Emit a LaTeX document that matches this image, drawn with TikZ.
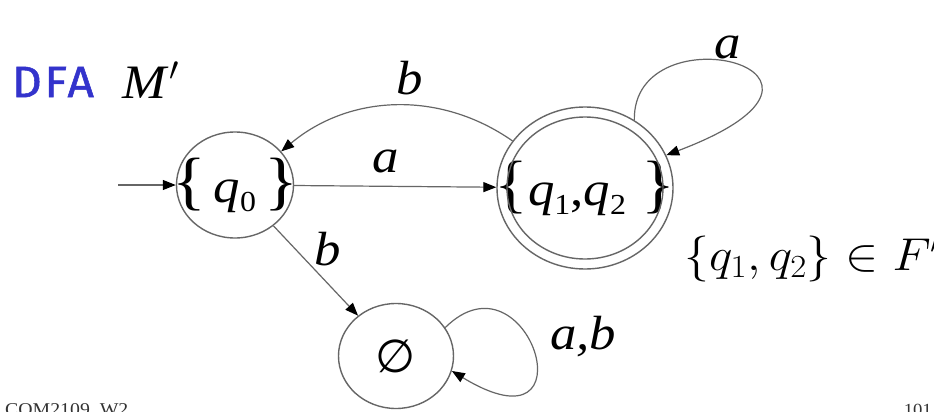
\RequirePackage{fix-cm}
\documentclass[tikz,border=0pt]{standalone}
\usepackage{fontspec}
\setmainfont[FakeStretch=1.1]{Liberation Serif}
\newfontfamily\dfafont[FakeStretch=1.05,FakeBold=1.2,LetterSpace=6]{Fira Sans}
\newfontfamily\symfont{DejaVu Sans}
\usetikzlibrary{arrows.meta,shapes.geometric}
\definecolor{linegray}{HTML}{666666}
\definecolor{dfablue}{HTML}{3333CC}
\newcommand\qsub[1]{\textit{q}\raisebox{-9pt}{\fontsize{29}{29}\selectfont #1}}
\newcommand\lbr{{\fontsize{64}{64}\selectfont\{}}
\newcommand\rbr{{\fontsize{64}{64}\selectfont\}}}
\begin{document}
\begin{tikzpicture}[x=1pt,y=-1pt,
  st/.style={ellipse,draw=linegray,line width=1.4pt,inner sep=0pt,font=\fontsize{48}{50}\selectfont},
  edge/.style={draw=linegray,line width=1.2pt,-{Triangle[length=13pt,width=10pt,color=black]}},
  lbl/.style={inner sep=0pt,font=\fontsize{48}{50}\selectfont\itshape}]
\useasboundingbox[fill=white] (0,0) rectangle (934,412);
% states
\node[st,minimum width=117pt,minimum height=106pt] (q0) at (235,185) {\makebox[0pt]{\lbr\,\qsub{0}\,\rbr}};
\node[st,minimum width=176pt,minimum height=162pt] (q12) at (585,188) {\makebox[0pt]{\lbr\qsub{1},\qsub{2}\,\,\rbr}};
\node[ellipse,draw=linegray,line width=1.4pt,minimum width=156pt,minimum height=142pt] (q12in) at (585,188) {};
\node[st,minimum width=115pt,minimum height=105pt] (e) at (396,356) {\makebox[0pt]{\symfont\fontsize{46}{46}\selectfont ∅}};
% start
\coordinate (start) at (118,185);
\draw[edge] (start) -- (q0);
% transitions
\draw[edge] (q0) -- (q12);
\draw[edge] (q12.147) .. controls +(-73,-51) and +(68,-57) .. (q0.36);
\draw[edge] (q12.54) .. controls +(-2,-112) and +(225,-85) .. (q12.22);
\draw[edge] (q0) -- (e);
\draw[edge] (e.30) .. controls +(83,-82) and +(143,87) .. (e.-15);
% labels
\node[lbl] (la) at (386,161) {a};
\node[lbl] (lb) at (410,78) {b};
\node[lbl] (laloop) at (728,47) {a};
\node[lbl] (lbe) at (328,249) {b};
\node[lbl] (lab) at (583,337) {a,b};
% titles
\node[inner sep=0pt,text=dfablue,font=\dfafont\fontsize{44}{44}\selectfont] (dfa) at (53,82) {DFA};
\node[inner sep=0pt,font=\fontsize{48}{50}\selectfont] (mp) at (151,80) {\textit{M}$'$};
\node[inner sep=0pt,anchor=west,font=\fontsize{46}{46}\selectfont] (fin) at (684,259) {\scalebox{1.08}[1]{$\{q_1,q_2\}\in F'$}};
% footer
\node[inner sep=0pt,anchor=base west,text=black!80,font=\fontsize{18}{18}\selectfont] (foot1) at (5,415) {COM2109\_W2};
\node[inner sep=0pt,anchor=base east,text=black!80,font=\fontsize{17}{17}\selectfont] (foot2) at (932,415) {101};
\end{tikzpicture}
\end{document}
